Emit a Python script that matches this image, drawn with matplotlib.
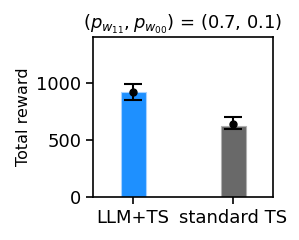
import matplotlib
matplotlib.use("Agg")
import matplotlib.pyplot as plt

methods = ["LLM+TS", "standard TS"]
bar_means = [920, 625]
dot_values = [915, 635]
err_lower = [62, 40]
err_upper = [78, 62]
colors = ["#1E90FF", "#696969"]

fig = plt.figure(figsize=(2.99, 2.40), dpi=100)
ax = fig.add_axes([93/299, 43/240, 180/299, 160/240])
x = list(range(len(methods)))
ax.bar(x, bar_means, width=0.25, color=colors, edgecolor=["#a8d2ff", "#b0b0b0"], linewidth=0.8)
ax.errorbar(x, dot_values, yerr=[err_lower, err_upper], fmt='o', color='black',
            capsize=6.5, markersize=5, elinewidth=1.5, capthick=1.5)
ax.set_xlim(-0.4, 1.4)
ax.set_ylim(0, 1400)
ax.set_yticks([0, 500, 1000])
ax.set_xticks(x)
ax.set_xticklabels(methods, fontsize=13)
ax.tick_params(axis='both', labelsize=13, length=5, width=1.2)
for s in ax.spines.values():
    s.set_linewidth(1.2)
ax.set_ylabel("Total reward", fontsize=11.5)
ax.set_title(r"$(p_{w_{11}}, p_{w_{00}})$ = (0.7, 0.1)", fontsize=13)
fig.savefig("out.png", dpi=100)
